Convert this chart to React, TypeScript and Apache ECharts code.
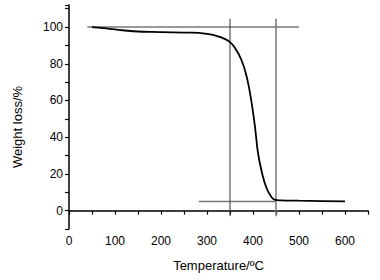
import React, { useEffect, useRef } from "react";
import * as echarts from "echarts";

const temperature = [50, 75, 100, 140, 200, 250, 300, 328, 350, 364, 375, 384.5, 393, 400.5, 406, 411, 419, 429.6, 440.5, 448, 460, 500, 550, 600];
const weight = [100, 99.4, 98.7, 97.7, 97.2, 97.0, 96.3, 94.6, 91.8, 87.3, 81.9, 74.7, 64.7, 52.9, 42, 31.2, 21.2, 12.2, 7.3, 5.9, 5.6, 5.4, 5.2, 5.0];

const hLineTop = { x: [40, 500], y: [100, 100] };
const hLineBottom = { x: [282, 450], y: [5, 5] };
const vLine350 = { x: [350, 350], y: [104.5, -3] };
const vLine450 = { x: [450, 450], y: [104.5, -3] };

const xTicks = [0, 100, 200, 300, 400, 500, 600];
const yTicks = [0, 20, 40, 60, 80, 100];

const font = "'Liberation Sans', Arial, sans-serif";

function pairs(xs: number[], ys: number[]) {
  return xs.map((x, i) => [x, ys[i]]);
}

export default function App() {
  const ref = useRef<HTMLDivElement>(null);
  useEffect(() => {
    if (!ref.current) return;
    const chart = echarts.init(ref.current, undefined, { renderer: "svg" });
    chart.setOption({
      animation: false,
      backgroundColor: "#fff",
      grid: { left: 69, right: 12, top: 5, bottom: 51, containLabel: false },
      xAxis: {
        type: "value",
        min: 0,
        max: 650,
        interval: 50,
        name: "Temperature/ºC",
        nameLocation: "middle",
        nameGap: 30,
        nameTextStyle: { fontFamily: font, fontSize: 13, color: "#000" },
        axisLine: { lineStyle: { color: "#000", width: 1.5 } },
        axisTick: { show: true, length: 4, lineStyle: { color: "#000", width: 1.2 } },
        axisLabel: {
          fontFamily: font,
          fontSize: 12,
          color: "#000",
          margin: 6,
          formatter: (v: number) => (xTicks.includes(v) ? String(v) : ""),
        },
        splitLine: { show: false },
      },
      yAxis: {
        type: "value",
        min: -10,
        max: 112,
        interval: 10,
        axisLine: { show: true, lineStyle: { color: "#000", width: 1.5 } },
        axisTick: { show: true, length: 4, lineStyle: { color: "#000", width: 1.2 } },
        axisLabel: {
          fontFamily: font,
          fontSize: 12,
          color: "#000",
          margin: 6,
          formatter: (v: number) => (yTicks.includes(v) ? String(v) : ""),
        },
        splitLine: { show: false },
      },
      graphic: [
        {
          type: "text",
          x: 17,
          y: 127,
          rotation: Math.PI / 2,
          style: {
            text: "Weight loss/%",
            fontFamily: font,
            fontSize: 13,
            fill: "#000",
            align: "center",
            verticalAlign: "middle",
          },
        },
      ],
      series: [
        {
          type: "line",
          data: pairs(hLineTop.x, hLineTop.y),
          symbol: "none",
          lineStyle: { color: "#777", width: 1.5 },
          z: 1,
        },
        {
          type: "line",
          data: pairs(hLineBottom.x, hLineBottom.y),
          symbol: "none",
          lineStyle: { color: "#777", width: 1.5 },
          z: 1,
        },
        {
          type: "line",
          data: pairs(vLine350.x, vLine350.y),
          symbol: "none",
          lineStyle: { color: "#333", width: 1 },
          z: 1,
        },
        {
          type: "line",
          data: pairs(vLine450.x, vLine450.y),
          symbol: "none",
          lineStyle: { color: "#777", width: 1.5 },
          z: 1,
        },
        {
          type: "line",
          data: pairs(temperature, weight),
          symbol: "none",
          smooth: 0.5,
          lineStyle: { color: "#000", width: 1.8 },
          z: 3,
        },
      ],
    });
    return () => chart.dispose();
  }, []);
  return <div ref={ref} style={{ width: 380, height: 280, position: "absolute", left: 0, top: 0 }} />;
}
